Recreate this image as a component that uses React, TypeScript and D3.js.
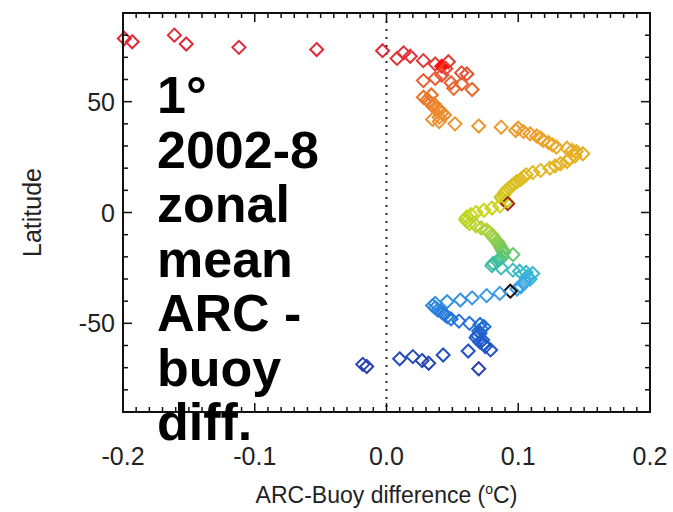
import React from 'react';
import * as d3 from 'd3';

// 1 degree zonal means, ARC minus buoy (deg C)
const lats = [
  80, 78.5, 77, 76, 74.5, 73.5, 73, 72, 70.5, 69.5, 68.5, 68, 67, 66, 65, 63, 62.5, 62, 60.5, 59.5,
  58.5, 58, 56, 55.5, 53, 52, 51, 50, 49, 48, 47, 46, 45, 44, 43, 42, 41, 40, 39, 38.5,
  38, 37, 36.5, 35.5, 34.5, 33.5, 32.5, 31.5, 30.5, 29.5, 29, 28, 27.5, 26.5, 25.5, 24.5, 23, 22, 21, 20,
  19, 18, 17, 16, 15, 14, 13, 12, 11, 10, 9, 8, 7, 6, 5, 4, 3, 2, 1, 0,
  -1, -2, -3, -4, -5, -6, -7, -8, -9, -10, -11, -12, -13, -14, -15, -16, -17, -18, -19, -20,
  -21, -22, -23, -24, -25, -26, -26.5, -27, -27.5, -29, -30, -31, -32, -33.5, -34.5, -35.5, -36.5, -37.5, -38.5, -39.5,
  -40.2, -41, -42, -43, -44, -45, -46, -47, -48, -49, -50, -50.5, -51.5, -52.5, -53.5, -54.5, -55.5, -56.5, -57.5, -58.5,
  -59.5, -60.5, -62, -62.5, -64.3, -65, -66, -66.8, -68, -68.5, -69.5, -70.5,
];
const diffs = [
  -0.161, -0.199, -0.193, -0.152, -0.112, -0.053, -0.003, 0.013, 0.018, 0.008, 0.028, 0.047, 0.037, 0.042, 0.045, 0.057, 0.061, 0.042, 0.037, 0.028,
  0.049, 0.057, 0.051, 0.065, 0.034, 0.028, 0.031, 0.032, 0.036, 0.035, 0.039, 0.04, 0.042, 0.044, 0.04, 0.035, 0.04, 0.052, 0.07, 0.087,
  0.1, 0.098, 0.104, 0.109, 0.114, 0.117, 0.119, 0.123, 0.126, 0.129, 0.137, 0.141, 0.144, 0.149, 0.143, 0.139, 0.137, 0.132, 0.128, 0.124,
  0.117, 0.111, 0.106, 0.104, 0.102, 0.099, 0.097, 0.095, 0.093, 0.091, 0.09, 0.089, 0.087, 0.088, 0.091, 0.092, 0.086, 0.08, 0.074, 0.068,
  0.064, 0.061, 0.06, 0.061, 0.063, 0.068, 0.072, 0.076, 0.078, 0.08, 0.081, 0.082, 0.084, 0.085, 0.086, 0.087, 0.088, 0.089, 0.096, 0.088,
  0.086, 0.084, 0.081, 0.08, 0.087, 0.096, 0.101, 0.106, 0.111, 0.107, 0.109, 0.105, 0.104, 0.102, 0.099, 0.094, 0.086, 0.076, 0.065, 0.056,
  0.046, 0.037, 0.035, 0.037, 0.039, 0.042, 0.044, 0.046, 0.049, 0.055, 0.063, 0.071, 0.074, 0.072, 0.07, 0.071, 0.069, 0.068, 0.073, 0.071,
  0.074, 0.075, 0.079, 0.062, 0.043, 0.02, 0.01, 0.027, 0.032, -0.018, -0.015, 0.07,
];
// points drawn differently in the original
const filledLats = [66];
const darkRedLats = [4];
const blackLats = [-35.5];

const xTicks = [-0.2, -0.1, 0.0, 0.1, 0.2];
const yTicks = [-50, 0, 50];
const textLines = ['1°', '2002-8', 'zonal', 'mean', 'ARC -', 'buoy', 'diff.'];

// latitude colour ramp (rainbow)
const rampLat = [-70, -60, -50, -40, -35, -28, -22, -18, -10, 0, 10, 25, 38, 48, 60, 72];
const rampColor = [
  '#2840b0', '#2058c8', '#2070d8', '#3090e0', '#40a0e8', '#38b8d8', '#40c090', '#70c860', '#a8d040', '#c8d818',
  '#d8c020', '#e8b020', '#ec9a30', '#ee8028', '#e85a30', '#e02a38',
];

const W = 673;
const H = 512;
const left = 123;
const right = 650;
const top = 13;
const bottom = 412;
const font = '"Liberation Sans", Arial, Helvetica, sans-serif';

export default function App() {
  const x = d3.scaleLinear().domain([-0.2, 0.2]).range([left, right]);
  const y = d3.scaleLinear().domain([-90, 90]).range([bottom, top]);
  const color = d3.scaleLinear<string>().domain(rampLat).range(rampColor).clamp(true);
  // plain hyphen minus, like the original
  const fmtX = (v: number) => d3.format('.1f')(v).replace('\u2212', '-');

  const xMinor = d3.range(-20, 21).map(i => i / 100);
  const yMinor = d3.range(-80, 81, 10);
  const r = 6.5;
  const diamond = (cx: number, cy: number) =>
    `M${cx},${cy - r}L${cx + r},${cy}L${cx},${cy + r}L${cx - r},${cy}Z`;

  const pts = lats.map((lat, i) => ({ lat, d: diffs[i] }));

  return (
    <svg width={W} height={H} style={{ position: 'absolute', left: 0, top: 0, background: '#fff' }}>
      <rect x={0} y={0} width={W} height={H} fill="#fff" />

      {/* zero line */}
      <line x1={x(0)} x2={x(0)} y1={top} y2={bottom} stroke="#222" strokeWidth={2} strokeDasharray="2,6" />

      {/* points */}
      {pts.map((p, i) => {
        let stroke = color(p.lat);
        let fill = 'none';
        if (filledLats.includes(p.lat)) { stroke = '#ff1010'; fill = '#ff1010'; }
        if (darkRedLats.includes(p.lat)) stroke = '#a02a10';
        if (blackLats.includes(p.lat)) stroke = '#111';
        return (
          <path key={i} d={diamond(x(p.d), y(p.lat))} fill={fill} stroke={stroke} strokeWidth={2} />
        );
      })}

      {/* ticks, all four sides */}
      {xMinor.map((v, i) => {
        const major = i % 10 === 0;
        const len = major ? 9 : 5;
        return (
          <g key={'xt' + i} stroke="#111" strokeWidth={1.5}>
            <line x1={x(v)} x2={x(v)} y1={bottom} y2={bottom - len} />
            <line x1={x(v)} x2={x(v)} y1={top} y2={top + len} />
          </g>
        );
      })}
      {yMinor.map((v, i) => {
        const major = v % 50 === 0;
        const len = major ? 9 : 5;
        return (
          <g key={'yt' + i} stroke="#111" strokeWidth={1.5}>
            <line x1={left} x2={left + len} y1={y(v)} y2={y(v)} />
            <line x1={right} x2={right - len} y1={y(v)} y2={y(v)} />
          </g>
        );
      })}

      <rect x={left} y={top} width={right - left} height={bottom - top} fill="none" stroke="#111" strokeWidth={2} />

      {/* tick labels */}
      {xTicks.map(v => (
        <text key={'xl' + v} x={x(v)} y={465} textAnchor="middle" fontFamily={font} fontSize={25} fill="#222">
          {fmtX(v)}
        </text>
      ))}
      {yTicks.map(v => (
        <text key={'yl' + v} x={115} y={y(v) + 9} textAnchor="end" fontFamily={font} fontSize={25} fill="#222">
          {v}
        </text>
      ))}

      {/* axis titles */}
      <text x={x(0)} y={503} textAnchor="middle" fontFamily={font} fontSize={23} fill="#222">
        ARC-Buoy difference (<tspan fontSize={14} dy={-9}>o</tspan><tspan dy={9}>C)</tspan>
      </text>
      <text transform={`translate(41,${y(0)}) rotate(-90)`} textAnchor="middle" fontFamily={font} fontSize={25} fill="#222">
        Latitude
      </text>

      {/* overlay annotation */}
      {textLines.map((t, i) => (
        <text key={'tl' + i} x={157} y={113 + i * 54.5} fontFamily={font} fontWeight="bold" fontSize={52} fill="#000">
          {t}
        </text>
      ))}
    </svg>
  );
}
